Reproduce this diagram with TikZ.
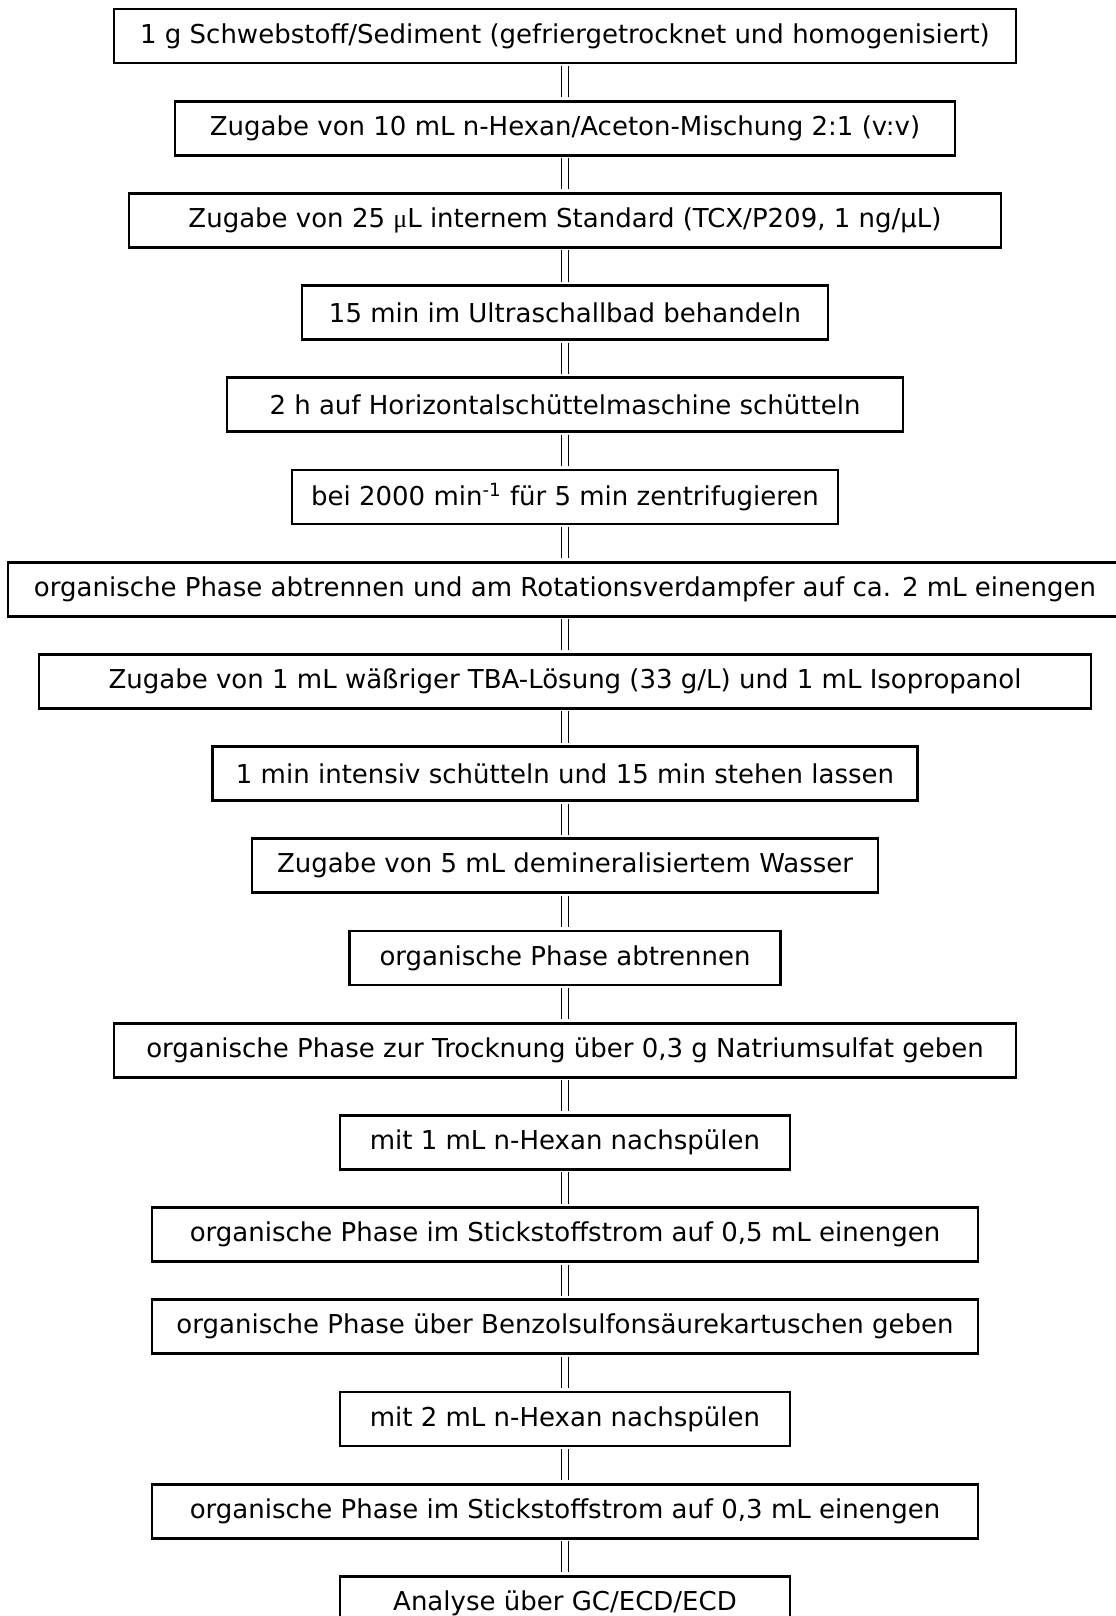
\documentclass[tikz,border=0pt]{standalone}
\usepackage{fontspec}
\setmainfont{DejaVu Sans}
\newfontfamily\symfont{Liberation Serif}
\usetikzlibrary{positioning}
\tikzset{
  stepbox/.style={draw=black,line width=1.4pt,outer sep=0pt,minimum width=#1,minimum height=27pt,
    inner sep=0pt,align=center,font=\fontsize{13pt}{15pt}\selectfont},
  stepbox/.default=200pt,
  link/.style={draw=black,line width=0.5pt,double=white,double distance=3pt,
    shorten <=1.5pt,shorten >=2pt},
}
\begin{document}
\begin{tikzpicture}
  \useasboundingbox (0,0) rectangle (557.5pt,-808pt);
  \node[stepbox=451pt] (s1) at (282.5pt,-18pt) {1 g Schwebstoff/Sediment (gefriergetrocknet und homogenisiert)};
  \node[stepbox=390pt,below=19.1pt of s1] (s2) {Zugabe von 10 mL n-Hexan/Aceton-Mischung 2:1 (v:v)};
  \node[stepbox=436pt,below=19.1pt of s2] (s3) {Zugabe von 25 {\symfont μ}L internem Standard (TCX/P209, 1 ng/µL)};
  \node[stepbox=263pt,below=19.1pt of s3] (s4) {15 min im Ultraschallbad behandeln};
  \node[stepbox=338pt,below=19.1pt of s4] (s5) {2 h auf Horizontalschüttelmaschine schütteln};
  \node[stepbox=273pt,below=19.1pt of s5] (s6) {bei 2000 min\textsuperscript{-1} für 5 min zentrifugieren};
  \node[stepbox=557pt,below=19.1pt of s6] (s7) {organische Phase abtrennen und am Rotationsverdampfer auf ca. 2 mL einengen};
  \node[stepbox=526pt,below=19.1pt of s7] (s8) {Zugabe von 1 mL wäßriger TBA-Lösung (33 g/L) und 1 mL Isopropanol};
  \node[stepbox=352.5pt,below=19.1pt of s8] (s9) {1 min intensiv schütteln und 15 min stehen lassen};
  \node[stepbox=313pt,below=19.1pt of s9] (s10) {Zugabe von 5 mL demineralisiertem Wasser};
  \node[stepbox=215.5pt,below=19.1pt of s10] (s11) {organische Phase abtrennen};
  \node[stepbox=451pt,below=19.1pt of s11] (s12) {organische Phase zur Trocknung über 0,3 g Natriumsulfat geben};
  \node[stepbox=225pt,below=19.1pt of s12] (s13) {mit 1 mL n-Hexan nachspülen};
  \node[stepbox=413pt,below=19.1pt of s13] (s14) {organische Phase im Stickstoffstrom auf 0,5 mL einengen};
  \node[stepbox=413pt,below=19.1pt of s14] (s15) {organische Phase über Benzolsulfonsäurekartuschen geben};
  \node[stepbox=225pt,below=19.1pt of s15] (s16) {mit 2 mL n-Hexan nachspülen};
  \node[stepbox=413pt,below=19.1pt of s16] (s17) {organische Phase im Stickstoffstrom auf 0,3 mL einengen};
  \node[stepbox=225pt,below=19.1pt of s17] (s18) {Analyse über GC/ECD/ECD};
  \foreach \i [count=\j from 2] in {1,...,17}
    \draw[link] (s\i) -- (s\j);
\end{tikzpicture}
\end{document}
